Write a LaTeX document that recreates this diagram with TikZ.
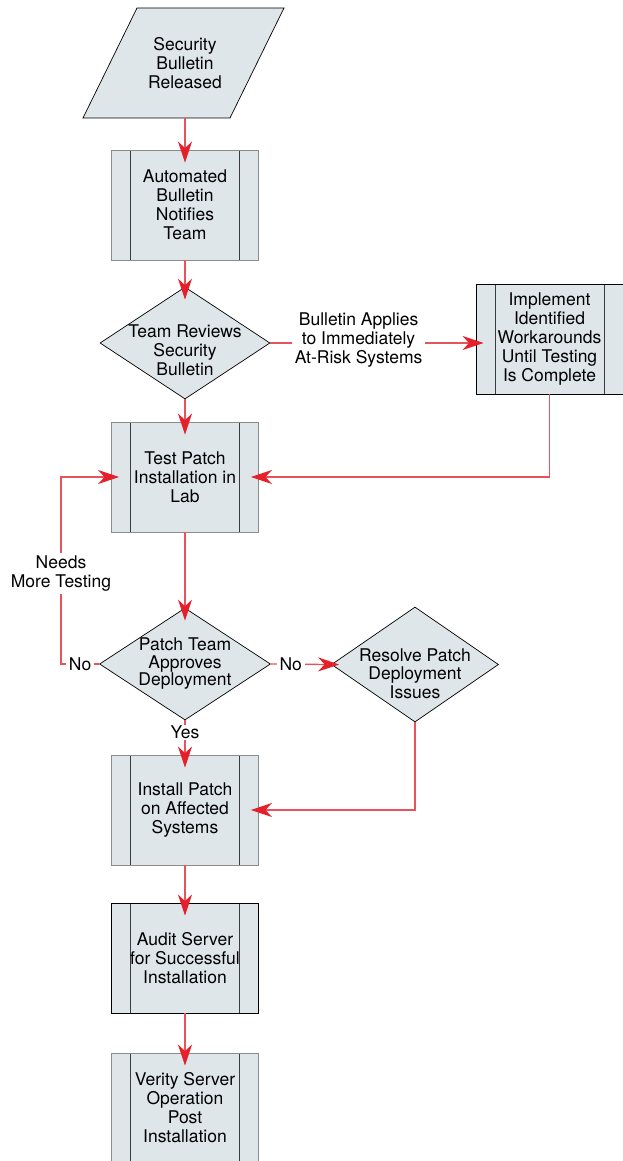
\documentclass[tikz,border=0pt]{standalone}
\usepackage{fontspec}
\setmainfont{TeX Gyre Heros}
\usetikzlibrary{shapes.geometric,arrows.meta}
\definecolor{boxfill}{HTML}{DFE6EA}
\definecolor{lred}{HTML}{E8525A}
\definecolor{tred}{HTML}{E5202A}
\definecolor{greyb}{HTML}{8C8C8C}
\definecolor{darkl}{HTML}{3C3C3C}
\tikzset{
  txt/.style={font=\fontsize{17.5}{19}\selectfont, align=center, inner sep=0pt},
  procbox/.style={rectangle, draw=#1, line width=0.9pt, fill=boxfill,
    minimum width=147pt, minimum height=110pt, inner sep=0pt, txt,
    path picture={
      \draw[darkl,line width=1pt] ([xshift=19pt]path picture bounding box.north west) -- ([xshift=19pt]path picture bounding box.south west);
      \draw[darkl,line width=1pt] ([xshift=-19pt]path picture bounding box.north east) -- ([xshift=-19pt]path picture bounding box.south east);}},
  procbox/.default=greyb,
  decision/.style={diamond, draw=black, line width=0.7pt, fill=boxfill, inner sep=0pt},
  conn/.style={draw=lred, line width=1.3pt, shorten >=-13pt,
    -{Stealth[length=21pt,width=14pt,inset=6.5pt,color=tred]}},
  hconn/.style={conn, shorten >=-8pt},
  lab/.style={txt, fill=white, inner sep=3pt}
}
\begin{document}
\begin{tikzpicture}[x=1pt,y=-1pt]
\useasboundingbox[fill=white] (0,0) rectangle (622,1161);
% start parallelogram
\draw[black, line width=0.7pt, fill=boxfill] (137,8) -- (284,8) -- (230,118) -- (83,118) -- cycle;
\node[txt, minimum height=110pt] (sec) at (185,63) {Security\\Bulletin\\Released};
% process boxes
\node[procbox] (auto) at (185,205) {Automated\\Bulletin\\Notifies\\Team};
\node[decision, minimum width=170pt, minimum height=112pt,
  label={[txt,yshift=-7pt]center:{Team Reviews\\Security\\Bulletin}}] (rev) at (185,343) {};
\node[procbox=black] (impl) at (549.5,339) {Implement\\Identified\\Workarounds\\Until Testing\\Is Complete};
\node[procbox] (test) at (185,477) {Test Patch\\Installation in\\Lab};
\node[decision, minimum width=171pt, minimum height=112pt,
  label={[txt,font=\fontsize{17.5}{17.5}\selectfont]center:{Patch Team\\Approves\\Deployment}}] (appr) at (185,664) {};
\node[decision, minimum width=167pt, minimum height=115pt,
  label={[txt,yshift=-9pt,font=\fontsize{17.5}{18.5}\selectfont]center:{Resolve Patch\\Deployment\\Issues}}] (res) at (415,664.5) {};
\node[procbox] (inst) at (185,810) {Install Patch\\on Affected\\Systems};
\node[procbox=black] (aud) at (185,958) {Audit Server\\for Successful\\Installation};
\node[procbox] (ver) at (185,1108) {Verity Server\\Operation\\Post\\Installation};
\coordinate (lx) at (61,0);
% connectors
\draw[conn] (sec.south) -- (auto.north);
\draw[conn] (auto.south) -- (rev.north);
\draw[hconn] (rev.east) -- node[lab, pos=0.43, yshift=2.5pt] {Bulletin Applies\\to Immediately\\At-Risk Systems} (impl.west |- rev.east);
\draw[conn] (rev.south) -- (test.north);
\draw[hconn] (impl.south) |- (test.east);
\draw[conn] (test.south) -- (appr.north);
\draw[hconn] (appr.west) -- node[lab] {No} (appr.west -| lx) -- node[lab, pos=0.485] {Needs\\More Testing} (test.west -| lx) -- (test.west);
\draw[hconn] (appr.east) -- node[lab, pos=0.33] {No} (res.west);
\draw[conn] (appr.south) -- node[lab, pos=0.36, inner sep=1pt] {Yes} (inst.north);
\draw[hconn] (res.south) |- (inst.east);
\draw[conn] (inst.south) -- (aud.north);
\draw[conn] (aud.south) -- (ver.north);
\end{tikzpicture}
\end{document}
